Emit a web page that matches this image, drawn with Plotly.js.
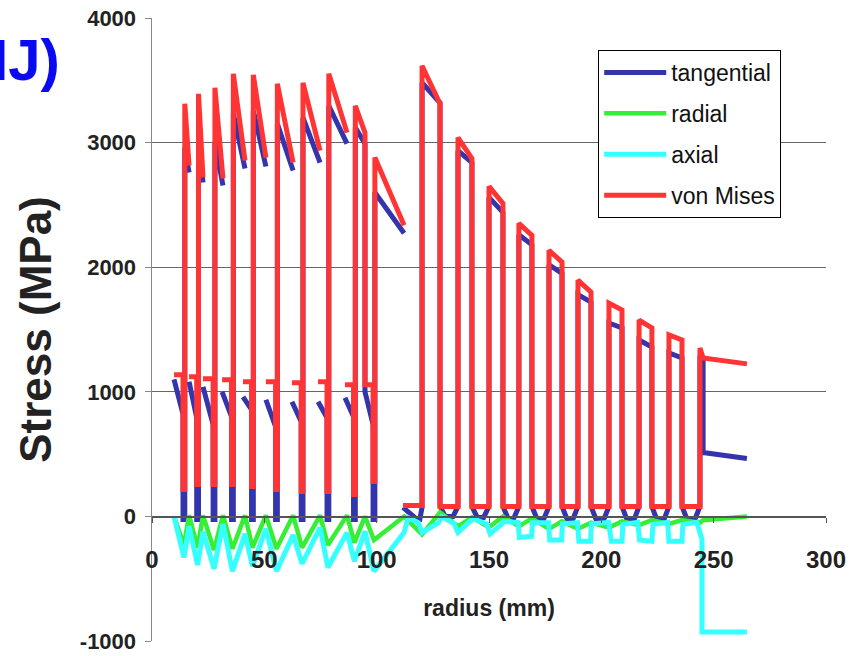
<!DOCTYPE html>
<html><head><meta charset="utf-8">
<script src="https://cdn.plot.ly/plotly-3.0.1.min.js"></script>
<style>html,body{margin:0;padding:0;background:#fff}#chart{width:850px;height:656px}</style>
</head><body><div id="chart"></div>
<script>
const seriesNames = ['tangential', 'radial', 'axial', 'von Mises'];
const seriesColors = ['#3434AC', '#35EE35', '#35FFFF', '#FF3535'];
const yTickVals = [-1000, 0, 1000, 2000, 3000, 4000];
const yTickText = ['-1000', '0', '1000', '2000', '3000', '4000'];

// von Mises (radius mm, stress MPa); null = gap between layers
const vmX = [9.8,13.8,13.8,14.6,14.6,16.5,null,
  16.5,19.9,19.9,20.7,20.7,22.7,null,
  22.7,27.2,27.2,28.0,28.0,31.6,null,
  31.2,35.4,35.4,36.2,36.2,41.4,null,
  40.5,44.3,44.3,45.1,45.1,50.7,null,
  50.7,55.0,55.0,55.8,55.8,62.8,null,
  62.3,66.4,66.4,67.2,67.2,74.8,null,
  73.9,77.9,77.9,78.7,78.7,86.8,null,
  85.9,89.7,89.7,90.5,90.5,94.8,
  94.8,98.4,98.4,99.2,99.2,112.2,null,
  111.7,120.2,120.2,128.2,128.2,136.2,136.2,142.4,142.4,150.0,150.0,156.2,156.2,163.3,163.3,169.1,169.1,176.7,176.7,182.5,182.5,189.6,189.6,195.4,195.4,203.4,203.4,209.2,209.2,216.8,216.8,222.5,222.5,230.1,230.1,235.9,235.9,243.9,243.9,245.3,264.8];
const vmY = [1136,1136,216,216,3312,2816,null,
  1120,1120,256,256,3392,2720,null,
  1104,1104,256,256,3440,2712,null,
  1096,1096,256,256,3552,2856,null,
  1080,1080,240,240,3544,2880,null,
  1080,1080,216,216,3472,2840,null,
  1072,1072,200,200,3480,2936,null,
  1080,1080,200,200,3552,3080,null,
  1056,1056,176,176,3296,3080,
  1056,1056,280,280,2880,2336,null,
  88,88,3616,3312,80,80,3040,2872,80,80,2648,2512,80,80,2352,2256,80,80,2136,2040,80,80,1896,1800,80,80,1712,1656,80,80,1576,1512,80,80,1456,1416,80,80,1352,1272,1224];

// tangential
const tangX = [9.8,13.8,13.8,14.6,14.6,16.5,null,
  16.5,19.9,19.9,20.7,20.7,22.7,null,
  22.7,27.2,27.2,28.0,28.0,31.6,null,
  31.2,35.4,35.4,36.2,36.2,41.4,null,
  40.5,44.3,44.3,45.1,45.1,50.7,null,
  50.7,55.0,55.0,55.8,55.8,62.8,null,
  62.3,66.4,66.4,67.2,67.2,74.8,null,
  73.9,77.9,77.9,78.7,78.7,86.8,null,
  85.9,89.7,89.7,90.5,90.5,94.8,
  94.8,98.4,98.4,99.2,99.2,112.2,null,
  111.7,118.0,119.2,120.2,120.2,128.2,
  128.2,130.5,134.0,136.2,136.2,142.4,
  142.4,144.8,147.6,150.0,150.0,156.2,
  156.2,158.5,161.0,163.3,163.3,169.1,
  169.1,171.5,174.3,176.7,176.7,182.5,
  182.5,184.8,187.3,189.6,189.6,195.4,
  195.4,197.8,201.0,203.4,203.4,209.2,
  209.2,211.5,214.5,216.8,216.8,222.5,
  222.5,224.8,227.8,230.1,230.1,235.9,
  235.9,238.3,241.5,243.9,243.9,245.3,245.3,264.8];
const tangY = [1100,820,-24,-24,2960,2760,null,
  1080,792,-24,-24,3050,2680,null,
  1040,736,-24,-24,3000,2656,null,
  1000,800,-24,-24,3232,2792,null,
  960,856,-24,-24,3256,2808,null,
  936,720,-24,-24,3150,2776,null,
  920,760,-24,-24,3200,2840,null,
  920,792,-24,-24,3296,2992,null,
  952,800,-24,-24,3120,2992,
  1000,736,-24,-24,2600,2272,null,
  72,-24,-24,72,3480,3320,
  80,0,0,80,2936,2840,
  80,-8,-8,80,2560,2440,
  80,-16,-16,80,2260,2180,
  80,-24,-24,80,2020,1950,
  80,-24,-24,80,1780,1720,
  80,-30,-30,80,1552,1512,
  80,-30,-30,80,1416,1360,
  80,-30,-30,80,1312,1272,
  80,-30,-30,80,1290,1264,512,464];

// radial
const radX = [9.8,14.2,16.5,20.3,22.7,27.6,31.6,35.8,41.4,44.7,50.7,55.4,62.8,66.8,74.8,78.3,86.8,90.1,94.8,98.8,112.2,
  120.2,128.2,136.2,142.4,150.0,156.2,163.3,169.1,176.7,182.5,189.6,195.4,203.4,209.2,216.8,222.5,230.1,235.9,243.9,245.3,264.8];
const radY = [0,-230,8,-250,8,-270,8,-260,8,-250,8,-260,8,-250,8,-230,8,-210,0,-190,0,
  -144,32,-80,-8,-88,0,-80,-16,-100,-40,-100,-50,-90,-40,-70,-30,-60,-30,-50,-30,0];

// axial
const axX = [9.8,14.2,16.5,20.3,22.7,27.6,31.6,35.8,41.4,44.7,50.7,55.4,62.8,66.8,74.8,78.3,86.8,90.1,94.8,98.8,112.2,
  114.0,118.5,120.2,127.5,129.0,134.5,136.2,141.5,143.0,149.0,150.5,155.8,156.6,163.0,163.5,169.0,169.3,176.5,177.0,182.3,182.7,189.4,190.0,195.2,195.6,203.2,204.5,209.2,209.6,216.2,217.0,222.5,223.0,229.5,230.1,235.9,236.3,242.5,244.8,244.8,264.8];
const axY = [0,-330,-80,-390,-120,-420,-60,-440,-140,-400,-100,-440,-150,-380,-90,-410,-130,-360,-120,-440,-130,
  -10,-50,-130,-50,0,-60,-130,-40,-20,-60,-140,-60,-40,-50,-170,-160,-50,-50,-190,-190,-60,-50,-200,-200,-60,-48,-200,-200,-64,-48,-190,-200,-64,-48,-200,-200,-64,-48,-184,-928,-928];

const xs = [tangX, radX, axX, vmX];
const ys = [tangY, radY, axY, vmY];
const widths = [5, 4.5, 5, 5];

const traces = seriesNames.map((n, i) => ({
  type: 'scatter', mode: 'lines', name: n, x: xs[i], y: ys[i],
  connectgaps: false, legendgroup: 'g' + i,
  line: {color: seriesColors[i], width: widths[i], shape: 'linear'}
}));

const fontFam = 'Arial, "Liberation Sans", sans-serif';
const layout = {
  width: 850, height: 656,
  margin: {l: 152, r: 24, t: 18, b: 15},
  paper_bgcolor: '#ffffff', plot_bgcolor: '#ffffff',
  font: {family: fontFam, color: '#222222'},
  showlegend: true,
  legend: {x: 0.662, y: 0.9486, xanchor: 'left', yanchor: 'top', bgcolor: '#ffffff',
    bordercolor: '#000000', borderwidth: 1, font: {size: 23, family: fontFam, color: '#111'},
    tracegroupgap: 8, itemwidth: 62},
  xaxis: {range: [0, 300], tick0: 0, dtick: 50, anchor: 'free', position: 0.2,
    showgrid: false, zeroline: false, showline: true, linecolor: '#555', linewidth: 1.5,
    ticks: 'outside', ticklen: 5, tickcolor: '#555', ticklabelstandoff: 16,
    tickfont: {size: 24, family: fontFam, weight: 'bold', color: '#222'},
    title: {text: 'radius (mm)', font: {size: 23, family: fontFam, weight: 'bold', color: '#222'}, standoff: 28}},
  yaxis: {range: [-1000, 4000], tickmode: 'array', tickvals: yTickVals, ticktext: yTickText,
    showgrid: true, gridcolor: '#666', gridwidth: 1.3,
    zeroline: false, showline: true, linecolor: '#888', linewidth: 1.5, ticks: 'outside', ticklen: 6,
    tickcolor: '#888', ticklabelstandoff: 4,
    tickfont: {size: 22, family: fontFam, weight: 'bold', color: '#222'},
    title: {text: 'Stress (MPa)', font: {size: 44, family: fontFam, weight: 'bold', color: '#222'}, standoff: 14}},
  annotations: [{text: 'MJ)', xref: 'paper', yref: 'paper', x: -0.1335, y: 0.9326,
    xanchor: 'right', yanchor: 'middle', showarrow: false,
    font: {size: 58, family: fontFam, weight: 'bold', color: '#0A0AF0'}}]
};
Plotly.newPlot('chart', traces, layout, {staticPlot: true, displayModeBar: false});
</script></body></html>
